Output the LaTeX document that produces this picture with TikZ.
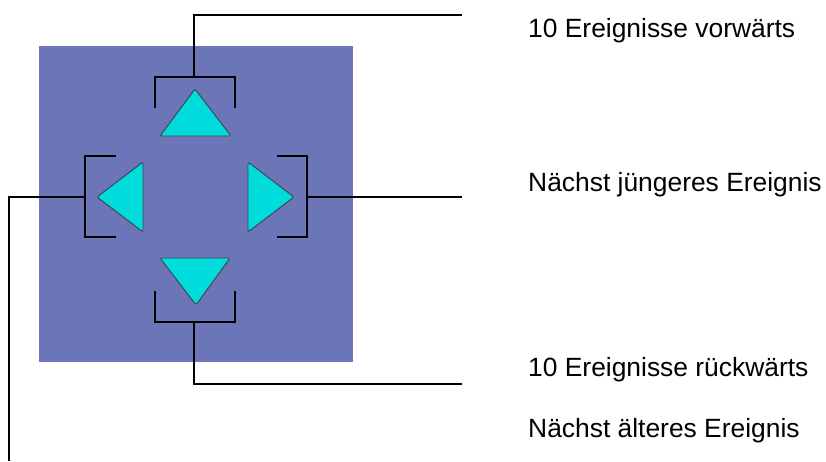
\documentclass[tikz,border=0pt]{standalone}
\usepackage{fontspec}
\setmainfont{Liberation Sans}
\begin{document}
\begin{tikzpicture}[x=1pt,y=-1pt,
  panel/.style={fill=panelblue,draw=none},
  arrowtri/.style={fill=tricyan,draw=tribord,line width=0.9pt,rounded corners=2pt,line join=round},
  brack/.style={draw=black,line width=1.3pt},
  conn/.style={draw=black,line width=2pt},
  lbl/.style={anchor=base west,inner sep=0pt,font=\fontsize{26.4}{30}\selectfont}]
\definecolor{panelblue}{RGB}{108,117,184}
\definecolor{tricyan}{RGB}{0,220,220}
\definecolor{tribord}{RGB}{64,64,72}
\useasboundingbox (0,0) rectangle (826,461);
\fill[white] (0,0) rectangle (826,461);
% panel
\path[panel] (39,46) rectangle (353,362);
% triangles
\path[arrowtri] (195,89) -- (231,136) -- (160,136) -- cycle;
\path[arrowtri] (160,258) -- (230,258) -- (196,305) -- cycle;
\path[arrowtri] (97,197) -- (143,162) -- (143,232) -- cycle;
\path[arrowtri] (294,197) -- (248,162) -- (248,232) -- cycle;
% brackets
\draw[brack] (155,108) -- (155,77) -- (235,77) -- (235,108);
\draw[brack] (155,291) -- (155,322) -- (235,322) -- (235,291);
\draw[brack] (116,156) -- (85,156) -- (85,237) -- (116,237);
\draw[brack] (277,156) -- (307,156) -- (307,237) -- (277,237);
\coordinate (bt) at (194,77);
\coordinate (bb) at (194,322);
\coordinate (bl) at (85,197);
\coordinate (br) at (307,197);
% labels
\node[lbl] (t1) at (528,37.3) {10 Ereignisse vorwärts};
\node[lbl] (t2) at (528,191.7) {Nächst jüngeres Ereignis};
\node[lbl] (t3) at (528,376) {10 Ereignisse rückwärts};
\node[lbl] (t4) at (528,437.3) {Nächst älteres Ereignis};
\coordinate (e1) at (462,15);
\coordinate (e2) at (462,197);
\coordinate (e3) at (462,384);
\coordinate (e4) at (9,461);
% connectors
\draw[conn] (bt) |- (e1);
\draw[conn] (br) -- (e2);
\draw[conn] (bb) |- (e3);
\draw[conn] (bl) -| (e4);
\end{tikzpicture}
\end{document}
